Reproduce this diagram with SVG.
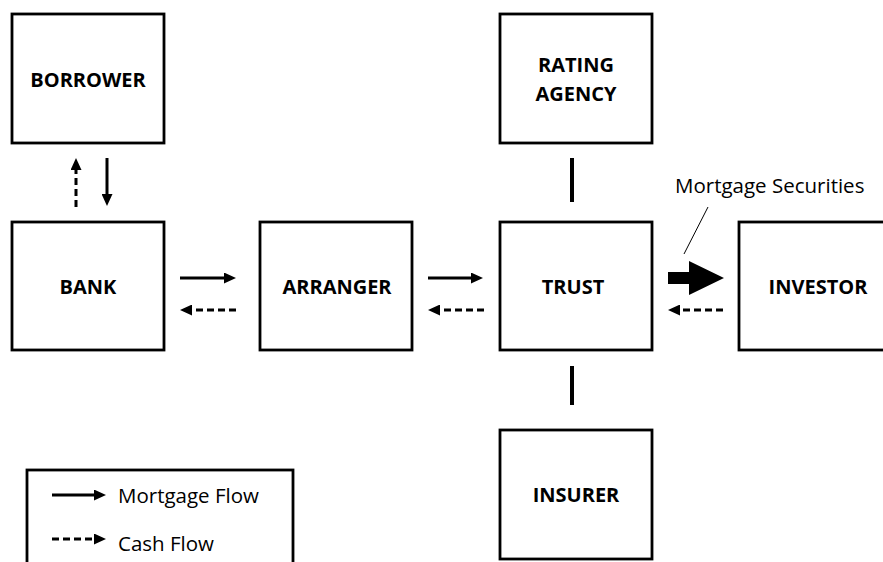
<svg xmlns="http://www.w3.org/2000/svg" width="883" height="562" viewBox="0 0 883 562">
  <style>
    .box { fill: #fff; stroke: #000; stroke-width: 2.8; }
    .lbl { font-family: "Open Sans", "Liberation Sans", sans-serif; font-weight: bold; font-size: 20px; fill: #000; text-anchor: middle; }
    .txt { font-family: "Open Sans", "Liberation Sans", sans-serif; font-size: 20.5px; fill: #000; }
    .flow { stroke: #000; stroke-width: 3; fill: none; }
    .cash { stroke: #000; stroke-width: 3; fill: none; stroke-dasharray: 7 4; }
    .link { stroke: #000; stroke-width: 4; }
  </style>
  <defs>
    <marker id="ah" markerUnits="userSpaceOnUse" markerWidth="13" markerHeight="11" refX="3" refY="5.5" orient="auto">
      <path d="M0,0 L12,5.5 L0,11 z" fill="#000"/>
    </marker>
  </defs>
  <rect width="883" height="562" fill="#fff"/>

  <g id="borrower"><rect class="box" x="12" y="14" width="152" height="129"/><text class="lbl" x="88" y="87">BORROWER</text></g>
  <g id="bank"><rect class="box" x="12" y="222" width="152" height="128"/><text class="lbl" x="88" y="294">BANK</text></g>
  <g id="arranger"><rect class="box" x="260" y="222" width="152" height="128"/><text class="lbl" x="337" y="294">ARRANGER</text></g>
  <g id="trust"><rect class="box" x="500" y="222" width="152" height="128"/><text class="lbl" x="573" y="294">TRUST</text></g>
  <g id="investor"><rect class="box" x="739" y="222" width="152" height="128"/><text class="lbl" x="818" y="294">INVESTOR</text></g>
  <g id="rating-agency"><rect class="box" x="500" y="14" width="152" height="129"/><text class="lbl" x="576" y="72">RATING</text><text class="lbl" x="576" y="101">AGENCY</text></g>
  <g id="insurer"><rect class="box" x="500" y="430" width="152" height="129"/><text class="lbl" x="576" y="502">INSURER</text></g>

  <g id="connectors">
    <line class="cash" x1="76" y1="207" x2="76" y2="167" marker-end="url(#ah)"/>
    <line class="flow" x1="107" y1="158" x2="107" y2="197" marker-end="url(#ah)"/>
    <line class="flow" x1="180" y1="278" x2="227" y2="278" marker-end="url(#ah)"/>
    <line class="cash" x1="236" y1="310" x2="189" y2="310" marker-end="url(#ah)"/>
    <line class="flow" x1="428" y1="278" x2="474" y2="278" marker-end="url(#ah)"/>
    <line class="cash" x1="484" y1="310" x2="437" y2="310" marker-end="url(#ah)"/>
    <polygon points="668,272 689,272 689,261 724,278 689,295 689,284 668,284" fill="#000"/>
    <line class="cash" x1="723" y1="310" x2="677" y2="310" marker-end="url(#ah)"/>
    <line class="link" x1="572" y1="158" x2="572" y2="202"/>
    <line class="link" x1="572" y1="366" x2="572" y2="405"/>
    <line x1="708" y1="207" x2="684" y2="254" stroke="#000" stroke-width="1"/>
  </g>
  <text class="txt" x="675" y="193">Mortgage Securities</text>

  <g id="legend">
    <rect class="box" x="27" y="470" width="266" height="110"/>
    <line class="flow" x1="52" y1="495" x2="97" y2="495" marker-end="url(#ah)"/>
    <text class="txt" x="118" y="503">Mortgage Flow</text>
    <line class="cash" x1="52" y1="539" x2="97" y2="539" marker-end="url(#ah)"/>
    <text class="txt" x="118" y="551">Cash Flow</text>
  </g>
</svg>
